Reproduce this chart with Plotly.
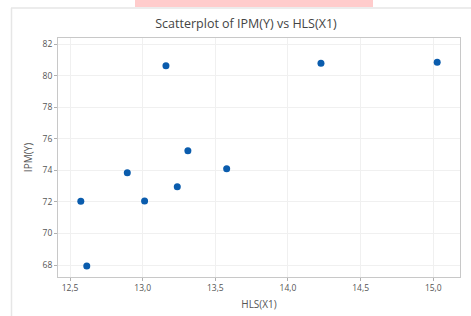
import plotly.graph_objects as go

hls_x1 = [12.574, 12.615, 12.894, 13.013, 13.238, 13.311, 13.578, 13.160, 14.227, 15.027]
ipm_y = [72.04, 67.94, 73.85, 72.05, 72.96, 75.24, 74.10, 80.63, 80.78, 80.84]

x_ticks = [12.5, 13.0, 13.5, 14.0, 14.5, 15.0]
y_ticks = [68, 70, 72, 74, 76, 78, 80, 82]

fig = go.Figure()
fig.add_trace(go.Scatter(
    x=hls_x1, y=ipm_y, mode="markers",
    marker=dict(color="#0a5cad", size=7, line=dict(width=0)),
    showlegend=False,
))

axis_common = dict(
    showgrid=True, gridcolor="#f0f0f0", gridwidth=1,
    showline=True, linecolor="#c8c8c8", linewidth=1, mirror=True,
    ticks="outside", ticklen=3, tickcolor="#b0b0b0",
    tickfont=dict(size=8.5, color="#555555", family="Open Sans"),
    zeroline=False, automargin=False,
)

fig.update_layout(
    width=471, height=316,
    margin=dict(l=58, r=11, t=38, b=39),
    paper_bgcolor="white", plot_bgcolor="white",
    separators=",.",
    font=dict(family="Open Sans", color="#555555"),
    title=dict(text="Scatterplot of IPM(Y) vs HLS(X1)", x=246 / 471, xanchor="center",
               xref="container", y=1 - 24 / 316, yanchor="middle",
               font=dict(size=12.5, color="#444444", family="Open Sans")),
    xaxis=dict(axis_common, range=[12.417, 15.184], tickvals=x_ticks, tickformat=".1f",
               title=dict(text="HLS(X1)", font=dict(size=10, color="#555555"), standoff=8)),
    yaxis=dict(axis_common, range=[67.24, 82.38], tickvals=y_ticks,
               title=dict(text="IPM(Y)", font=dict(size=10, color="#555555"), standoff=8)),
    shapes=[
        dict(type="rect", xref="paper", yref="paper", x0=(135 - 58) / 402, x1=(373 - 58) / 402,
             y0=1 + (38 - 7) / 239, y1=1 + 38 / 239, fillcolor="#ffcccc", line=dict(width=0), layer="below"),
        dict(type="line", xref="paper", yref="paper", x0=(11 - 58) / 402, x1=(471 - 58) / 402,
             y0=1 + (38 - 8) / 239, y1=1 + (38 - 8) / 239, line=dict(color="#e6e6e6", width=1.5)),
        dict(type="line", xref="paper", yref="paper", x0=(11.5 - 58) / 402, x1=(11.5 - 58) / 402,
             y0=1 + (38 - 8) / 239, y1=-39 / 239, line=dict(color="#e6e6e6", width=1.5)),
    ],
)

fig.write_html("out.html", config={"displayModeBar": False},
               post_script="document.body.style.margin='0';")
